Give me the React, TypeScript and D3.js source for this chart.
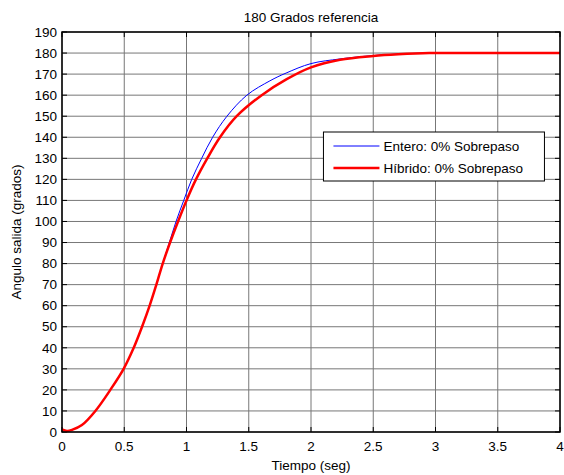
import React from 'react'
import * as d3 from 'd3'

// tiempo (seg) y angulo (grados)
const tHibrido = [0, 0.04, 0.08, 0.16, 0.268, 0.388, 0.495, 0.576, 0.643, 0.704, 0.758, 0.809, 0.868, 0.932, 1.0, 1.076, 1.167, 1.269, 1.403, 1.604, 1.805, 2.0, 2.233, 2.5, 2.7, 2.95, 3.3, 4.0]
const vHibrido = [1.2, 0.5, 1, 3.3, 10, 20, 30, 40, 50, 60, 70, 80, 90, 100, 110, 120, 130, 140, 150, 160, 167.6, 173.2, 176.8, 178.6, 179.4, 180, 180, 180]

const tEntero = [0, 0.04, 0.08, 0.16, 0.268, 0.388, 0.495, 0.576, 0.643, 0.704, 0.758, 0.809, 0.862, 0.916, 0.978, 1.042, 1.122, 1.21, 1.325, 1.485, 1.67, 1.8, 2.0, 2.233, 2.5, 2.7, 2.95, 3.3, 4.0]
const vEntero = [1.2, 0.5, 1, 3.3, 10, 20, 30, 40, 50, 60, 70, 80, 90, 100, 110, 120, 130, 140, 150, 160, 166.8, 170.5, 175, 177.2, 178.8, 179.5, 180, 180, 180]

const xTicks = [0, 0.5, 1, 1.5, 2, 2.5, 3, 3.5, 4]
const yTicks = d3.range(0, 191, 10)

const legendLabels = ['Entero: 0% Sobrepaso', 'Híbrido: 0% Sobrepaso']

const App = () => {
    const width = 564, height = 475
    const margin = { top: 32, right: 4, bottom: 43, left: 62 }
    const iw = width - margin.left - margin.right
    const ih = height - margin.top - margin.bottom

    const x = d3.scaleLinear().domain([0, 4]).range([0, iw])
    const y = d3.scaleLinear().domain([0, 190]).range([ih, 0])

    const mk = (ts: number[], vs: number[]) =>
        d3.line<[number, number]>()
            .x(d => x(d[0]))
            .y(d => y(d[1]))
            .curve(d3.curveCatmullRom.alpha(0.5))(ts.map((t, i) => [t, vs[i]])) || ''

    const font = 'Liberation Sans, Arial, sans-serif'
    const fs = 13.5
    const tick = 5

    return (
        <svg width={width} height={height}
            style={{ position: 'absolute', left: 0, top: 0, background: '#fff' }}
            fontFamily={font}>
            <rect x={0} y={0} width={width} height={height} fill="#fff" />
            <text x={margin.left + iw / 2} y={22} textAnchor="middle" fontSize={fs}>180 Grados referencia</text>
            <g transform={`translate(${margin.left},${margin.top})`}>
                {/* grid */}
                {xTicks.map(t => (
                    <line key={'gx' + t} x1={x(t)} x2={x(t)} y1={0} y2={ih} stroke="#777" strokeWidth={1} />
                ))}
                {yTicks.map(t => (
                    <line key={'gy' + t} x1={0} x2={iw} y1={y(t)} y2={y(t)} stroke="#777" strokeWidth={1} />
                ))}
                {/* ticks */}
                {xTicks.map(t => (
                    <g key={'tx' + t}>
                        <line x1={x(t)} x2={x(t)} y1={ih} y2={ih - tick} stroke="#000" />
                        <line x1={x(t)} x2={x(t)} y1={0} y2={tick} stroke="#000" />
                        <text x={x(t)} y={ih + 19} textAnchor="middle" fontSize={fs}>{t}</text>
                    </g>
                ))}
                {yTicks.map(t => (
                    <g key={'ty' + t}>
                        <line x1={0} x2={tick} y1={y(t)} y2={y(t)} stroke="#000" />
                        <line x1={iw} x2={iw - tick} y1={y(t)} y2={y(t)} stroke="#000" />
                        <text x={-5} y={y(t)} dy="0.35em" textAnchor="end" fontSize={fs}>{t}</text>
                    </g>
                ))}
                {/* series */}
                <path d={mk(tEntero, vEntero)} fill="none" stroke="#0000ff" strokeWidth={1} />
                <path d={mk(tHibrido, vHibrido)} fill="none" stroke="#ff0000" strokeWidth={2.5} />
                <rect x={0} y={0} width={iw} height={ih} fill="none" stroke="#000" strokeWidth={1.5} />

                {/* legend */}
                <g transform={`translate(${x(2.1)},${y(142.5)})`}>
                    <rect x={0} y={0} width={221} height={49} fill="#fff" stroke="#000" strokeWidth={1} />
                    <line x1={10} x2={56} y1={14} y2={14} stroke="#0000ff" strokeWidth={1} />
                    <text x={60} y={14} dy="0.35em" fontSize={fs}>{legendLabels[0]}</text>
                    <line x1={10} x2={56} y1={36} y2={36} stroke="#ff0000" strokeWidth={2.5} />
                    <text x={60} y={36} dy="0.35em" fontSize={fs}>{legendLabels[1]}</text>
                </g>
            </g>
            <text x={margin.left + iw / 2} y={470} textAnchor="middle" fontSize={fs}>Tiempo (seg)</text>
            <text transform={`translate(21,${margin.top + ih / 2}) rotate(-90)`} textAnchor="middle" fontSize={fs}>Angulo salida (grados)</text>
        </svg>
    )
}
export default App
